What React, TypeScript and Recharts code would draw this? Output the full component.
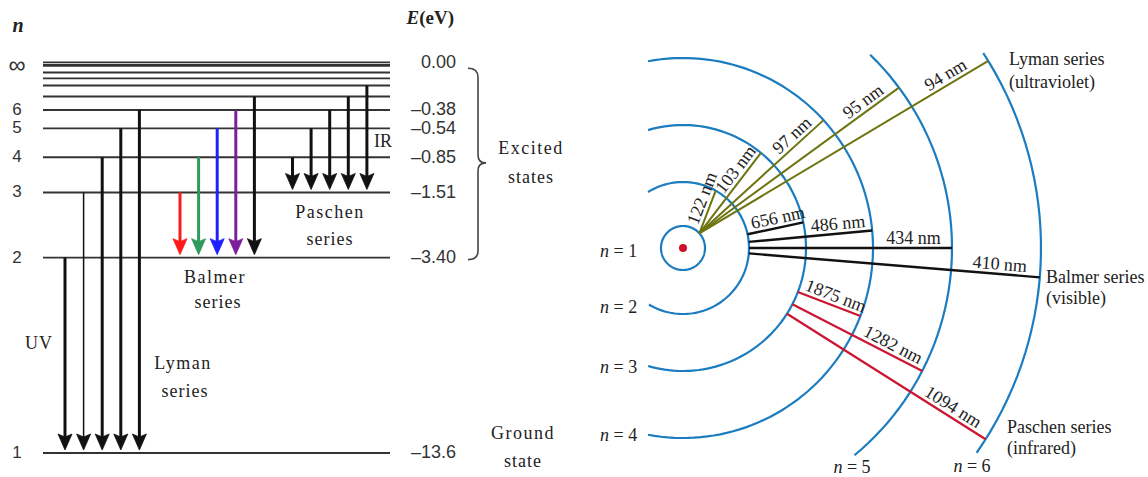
import React from "react";
import {
  ComposedChart,
  XAxis,
  YAxis,
  Line,
  Scatter,
  ReferenceLine,
  ReferenceArea,
} from "recharts";

const SERIF = '"Liberation Serif", "Times New Roman", serif';
const SANS = '"Liberation Sans", Arial, sans-serif';
const INK = "#222";

// hydrogen levels n = 1..12 (eV) and the ionisation limit
const levelN = [1, 2, 3, 4, 5, 6, 7, 8, 9, 10, 11, 12];
const levelE = [-13.6, -3.4, -1.51, -0.85, -0.54, -0.38, -0.28, -0.21, -0.17, -0.14, -0.11, -0.09];
const E_INF = 0;

// axis labels
const nTickLabels = ["1", "2", "3", "4", "5", "6", "∞"];
const eTickValues = [-13.6, -3.4, -1.51, -0.85, -0.54, -0.38, 0];
const eTickLabels = ["–13.6", "–3.40", "–1.51", "–0.85", "–0.54", "–0.38", "0.00"];

// transitions (upper level), lower level is 1 / 2 / 3
const lymanFrom = [2, 3, 4, 5, 6];
const balmerFrom = [3, 4, 5, 6, 7];
const paschenFrom = [4, 5, 6, 7, 8];
const balmerColors = ["#ff1a1a", "#2e9a5c", "#1f1fff", "#7d1f9a", "#111111"];

// wavelengths for the orbit picture
const lymanNm = ["122 nm", "103 nm", "97 nm", "95 nm", "94 nm"];
const balmerNm = ["656 nm", "486 nm", "434 nm", "410 nm"];
const paschenNm = ["1875 nm", "1282 nm", "1094 nm"];

// ---------- left panel layout ----------
const CHART_H = 477;
const LEFT_W = 574;
const PX_TOP = 62.3;
const PX_SPAN = 390.7;
const Y_DOMAIN = [-PX_TOP / PX_SPAN, (CHART_H - PX_TOP) / PX_SPAN];
const row = (px: number) => (px - PX_TOP) / PX_SPAN;
const LEVEL_X0 = 43;
const LEVEL_X1 = 390;
const STEP = 18.6;
const LYMAN_X0 = 65;
const BALMER_X0 = 180;
const PASCHEN_X0 = 292.5;

// schematic spacing of the levels (upper levels spread out like the drawing)
const levelPos = (e: number) => {
  const u = Math.sqrt(Math.max(0, -e) / 13.6);
  if (u >= 1 / 3) return u;
  if (u >= 0.25) return 0.243 + (u - 0.25) * 1.084;
  return Math.max(0.243 - (0.25 - u) * 1.46, 0.08 * u);
};
const eOf = (n: number) => levelE[levelN.indexOf(n)];

const Head = (p: any) => {
  const { cx, cy } = p;
  return (
    <polygon
      points={`${cx},${cy} ${cx - 7},${cy - 16} ${cx},${cy - 13} ${cx + 7},${cy - 16}`}
      fill={p.payload.color}
      stroke={p.payload.color}
      strokeWidth={0.8}
      strokeLinejoin="miter"
    />
  );
};

const Note = (p: any) => {
  const d = p.payload;
  const common = {
    x: p.cx,
    y: p.cy,
    dy: "0.35em",
    textAnchor: d.anchor || "middle",
    fontFamily: d.sans ? SANS : SERIF,
    fontSize: d.size || 18,
    fill: d.sans ? "#333" : INK,
    letterSpacing: d.ls || 0,
    transform: d.rot ? `rotate(${d.rot} ${p.cx} ${p.cy})` : undefined,
  };
  if (d.kind === "n")
    return (
      <text {...common} fontWeight="bold" fontStyle="italic">
        n
      </text>
    );
  if (d.kind === "eev")
    return (
      <text {...common} fontWeight="bold">
        <tspan fontStyle="italic">E</tspan>(eV)
      </text>
    );
  if (d.kind === "neq")
    return (
      <text {...common}>
        <tspan fontStyle="italic">n</tspan>
        {" = " + d.text}
      </text>
    );
  return <text {...common}>{d.text}</text>;
};

const Brace = (p: any) => {
  const { x, y, width, height } = p;
  const top = y + 6;
  const bot = y + height + 2;
  const mid = y + height * 0.515;
  const xv = x + 10;
  const xt = x + width;
  const d = `M ${x} ${top} Q ${xv} ${top} ${xv} ${top + 9} L ${xv} ${mid - 8} Q ${xv} ${mid} ${xt} ${mid} Q ${xv} ${mid} ${xv} ${mid + 8} L ${xv} ${bot - 9} Q ${xv} ${bot} ${x} ${bot}`;
  return <path d={d} fill="none" stroke="#444" strokeWidth={1.6} />;
};

const leftNotes = [
  { x: 18, y: row(25), kind: "n", size: 20 },
  { x: 454, y: row(17), kind: "eev", anchor: "end", size: 19 },
  { x: 383, y: row(141), text: "IR" },
  { x: 330, y: row(212), text: "Paschen", ls: 1.5 },
  { x: 330, y: row(239), text: "series", ls: 1 },
  { x: 215, y: row(277), text: "Balmer", ls: 1.5 },
  { x: 218, y: row(302), text: "series", ls: 1 },
  { x: 39, y: row(343), text: "UV", ls: 1 },
  { x: 183, y: row(363), text: "Lyman", ls: 1.5 },
  { x: 185, y: row(391), text: "series", ls: 1 },
  { x: 531, y: row(148), text: "Excited", ls: 1.5 },
  { x: 531, y: row(177), text: "states", ls: 1 },
  { x: 523, y: row(433), text: "Ground", ls: 1.5 },
  { x: 523, y: row(461), text: "state", ls: 1 },
];

// level names on the left, energies on the right of the level lines
const levelNotes = eTickValues.flatMap((e, i) => {
  const inf = nTickLabels[i] === "∞";
  const y = levelPos(e);
  return [
    { x: 17, y: y + (inf ? 2 : -1) / PX_SPAN, text: nTickLabels[i], sans: true, size: inf ? 24 : 17 },
    { x: 456, y: y - 1 / PX_SPAN, text: eTickLabels[i], sans: true, size: 18, anchor: "end" },
  ];
});

function LevelDiagram() {
  const tipGap = 3 / PX_SPAN;
  const shaftGap = 12 / PX_SPAN;
  const arrows = [
    ...lymanFrom.map((n, i) => ({ x: LYMAN_X0 + i * STEP, top: eOf(n), bot: eOf(1), color: "#111", w: i === 1 ? 1.5 : 3 })),
    ...balmerFrom.map((n, i) => ({ x: BALMER_X0 + i * STEP, top: eOf(n), bot: eOf(2), color: balmerColors[i], w: 3 })),
    ...paschenFrom.map((n, i) => ({ x: PASCHEN_X0 + i * STEP, top: eOf(n), bot: eOf(3), color: "#111", w: 3 })),
  ];
  const heads = arrows.map((a) => ({ x: a.x, y: levelPos(a.bot) - tipGap, color: a.color }));
  const allE = [...levelE, E_INF];

  return (
    <ComposedChart width={LEFT_W} height={CHART_H} margin={{ top: 0, right: 0, bottom: 0, left: 0 }}>
      <XAxis type="number" dataKey="x" domain={[0, LEFT_W]} hide allowDataOverflow />
      <YAxis type="number" dataKey="y" domain={Y_DOMAIN} reversed allowDataOverflow hide />
      {allE.map((e) => (
        <ReferenceLine
          key={`lv-${e}`}
          segment={[
            { x: LEVEL_X0, y: levelPos(e) },
            { x: LEVEL_X1, y: levelPos(e) },
          ]}
          stroke="#333"
          strokeWidth={1.8}
        />
      ))}
      {arrows.map((a, i) => (
        <ReferenceLine
          key={`ar-${i}`}
          segment={[
            { x: a.x, y: levelPos(a.top) },
            { x: a.x, y: levelPos(a.bot) - shaftGap },
          ]}
          stroke={a.color}
          strokeWidth={a.w}
        />
      ))}
      <ReferenceArea x1={468} x2={486} y1={levelPos(E_INF)} y2={levelPos(eOf(2))} shape={Brace} />
      <Scatter data={heads} shape={Head} isAnimationActive={false} />
      <Scatter data={levelNotes} shape={Note} isAnimationActive={false} />
      <Scatter data={leftNotes} shape={Note} isAnimationActive={false} />
    </ComposedChart>
  );
}

// ---------- right panel layout ----------
const RIGHT_W = 574;
const CX = 109; // nucleus, px from left of panel
const CY = 248;
const ORBIT_R = [22, 66, 123, 190, 269, 358];
const ORBIT_SPAN = [
  [-180, 180],
  [-121, 122],
  [-106.5, 106.5],
  [-100.6, 100.6],
  [-50.4, 45.9],
  [-34.9, 33],
];
const LYMAN_START = 42;
const LYMAN_END = [60.3, 50.7, 42.3, 36.6, 31.5];
const BALMER_ANG = [12, 5.3, 0, -4.7];
const PASCHEN_ANG = [-21, -27.2, -32.3];
const LYMAN_T = [0.74, 0.72, 0.8, 0.85, 0.87];
const BALMER_T = [0.58, 0.73, 0.81, 0.86];
const PASCHEN_T = [0.55, 0.74, 0.81];

const ORBIT = "#1b7cc0";
const LYMAN_C = "#6d7410";
const BALMER_C = "#111";
const PASCHEN_C = "#cc1531";

const polar = (r: number, deg: number) => ({
  x: r * Math.cos((deg * Math.PI) / 180),
  y: r * Math.sin((deg * Math.PI) / 180),
});

const segLabel = (a: any, b: any, t: number, off: number, text: string) => {
  const dx = b.x - a.x;
  const dy = b.y - a.y;
  const len = Math.hypot(dx, dy);
  return {
    x: a.x + dx * t - (dy / len) * off,
    y: a.y + dy * t + (dx / len) * off,
    text,
    size: 18,
    rot: (-Math.atan2(dy, dx) * 180) / Math.PI,
  };
};

const arcPoints = (r: number, a0: number, a1: number) => {
  const pts = [];
  const steps = Math.ceil((a1 - a0) / 2);
  for (let i = 0; i <= steps; i++) pts.push(polar(r, a0 + ((a1 - a0) * i) / steps));
  return pts;
};

const Nucleus = (p: any) => <circle cx={p.cx} cy={p.cy} r={4} fill="#d0102a" />;

function OrbitDiagram() {
  const lyman = lymanNm.map((t, i) => ({
    a: polar(ORBIT_R[0], LYMAN_START),
    b: polar(ORBIT_R[i + 1], LYMAN_END[i]),
    label: t,
    tl: LYMAN_T[i],
    color: LYMAN_C,
    w: 2,
  }));
  const balmer = balmerNm.map((t, i) => ({
    a: polar(ORBIT_R[1], BALMER_ANG[i]),
    b: polar(ORBIT_R[i + 2], BALMER_ANG[i]),
    label: t,
    tl: BALMER_T[i],
    color: BALMER_C,
    w: 2.4,
  }));
  const paschen = paschenNm.map((t, i) => ({
    a: polar(ORBIT_R[2], PASCHEN_ANG[i]),
    b: polar(ORBIT_R[i + 3], PASCHEN_ANG[i]),
    label: t,
    tl: PASCHEN_T[i],
    color: PASCHEN_C,
    w: 2.2,
  }));
  const lines = [...lyman, ...balmer, ...paschen];
  const labels = lines.map((l) => segLabel(l.a, l.b, l.tl, 10.5, l.label));

  const notes = [
    { x: -83, y: -3, kind: "neq", text: "1", anchor: "start" },
    { x: -83, y: -59, kind: "neq", text: "2", anchor: "start" },
    { x: -83, y: -119, kind: "neq", text: "3", anchor: "start" },
    { x: -83, y: -187, kind: "neq", text: "4", anchor: "start" },
    { x: 169, y: -219, kind: "neq", text: "5" },
    { x: 289, y: -218, kind: "neq", text: "6" },
    { x: 326, y: 189, text: "Lyman series", anchor: "start" },
    { x: 326, y: 166, text: "(ultraviolet)", anchor: "start" },
    { x: 363, y: -29, text: "Balmer series", anchor: "start" },
    { x: 363, y: -50, text: "(visible)", anchor: "start" },
    { x: 324, y: -179, text: "Paschen series", anchor: "start" },
    { x: 324, y: -200, text: "(infrared)", anchor: "start" },
    ...labels,
  ];

  return (
    <ComposedChart width={RIGHT_W} height={CHART_H} margin={{ top: 0, right: 0, bottom: 0, left: 0 }}>
      <XAxis type="number" dataKey="x" domain={[-CX, RIGHT_W - CX]} hide allowDataOverflow />
      <YAxis type="number" dataKey="y" domain={[CY - CHART_H, CY]} hide allowDataOverflow />
      {ORBIT_R.map((r, i) => (
        <Line
          key={`orb-${i}`}
          data={arcPoints(r, ORBIT_SPAN[i][0], ORBIT_SPAN[i][1])}
          dataKey="y"
          type="linear"
          stroke={ORBIT}
          strokeWidth={2.2}
          dot={false}
          activeDot={false}
          isAnimationActive={false}
        />
      ))}
      {lines.map((l, i) => (
        <ReferenceLine key={`tr-${i}`} segment={[l.a, l.b]} stroke={l.color} strokeWidth={l.w} />
      ))}
      <Scatter data={[{ x: 0, y: 0 }]} shape={Nucleus} isAnimationActive={false} />
      <Scatter data={notes} shape={Note} isAnimationActive={false} />
    </ComposedChart>
  );
}

export default function App() {
  return (
    <div
      style={{
        position: "absolute",
        left: 0,
        top: 0,
        width: 1148,
        height: CHART_H,
        background: "#fff",
        display: "flex",
      }}
    >
      <LevelDiagram />
      <OrbitDiagram />
    </div>
  );
}
